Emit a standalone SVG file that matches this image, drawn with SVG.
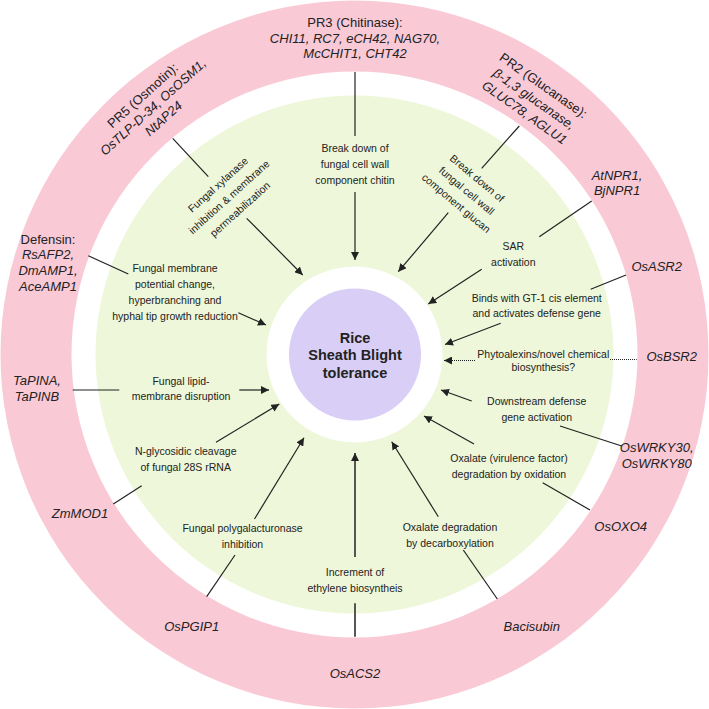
<svg xmlns="http://www.w3.org/2000/svg" width="709" height="709" viewBox="0 0 709 709">
<style>
.o{font-family:"Liberation Sans",Arial,sans-serif;font-size:13px;fill:#222;text-anchor:middle}
.i{font-style:italic}
.t{font-family:"Liberation Sans",Arial,sans-serif;font-size:10.5px;fill:#222;text-anchor:middle}
.c{font-family:"Liberation Sans",Arial,sans-serif;font-size:14.5px;font-weight:bold;fill:#222;text-anchor:middle}
.ln{stroke:#222;stroke-width:1.2;fill:none}
.ar{stroke:#222;stroke-width:1.2;fill:none;marker-end:url(#ah)}
.dt{stroke:#222;stroke-width:1.2;fill:none;stroke-dasharray:1,1}
</style>
<defs>
<marker id="ah" markerUnits="userSpaceOnUse" markerWidth="9" markerHeight="8" refX="8" refY="4" orient="auto">
<path d="M0,0 L8,4 L0,8 Z" fill="#222"/>
</marker>
</defs>
<rect width="709" height="709" fill="#fff"/>
<g id="rings">
<circle cx="354.5" cy="354.5" r="354" fill="#F9C9D6"/>
<circle cx="354.5" cy="354.5" r="283" fill="#fff"/>
<circle cx="354.5" cy="354.5" r="259" fill="#EEF7D9"/>
<circle cx="354.5" cy="354.5" r="88" fill="#fff"/>
</g>
<g id="center">
<circle cx="355" cy="354.5" r="66" fill="#D8CEF6"/>
<text class="c" x="355" y="342.5">Rice</text>
<text class="c" x="355" y="360">Sheath Blight</text>
<text class="c" x="355" y="378">tolerance</text>
</g>
<g id="connectors">
<line class="ln" x1="355" y1="72" x2="355" y2="136"/>
<line class="ar" x1="355" y1="192" x2="355" y2="260"/>
<line class="ln" x1="172.7" y1="138.3" x2="208.3" y2="176.7"/>
<line class="ar" x1="246.7" y1="218.3" x2="302.7" y2="275"/>
<line class="ln" x1="519.3" y1="126" x2="481.7" y2="168.3"/>
<line class="ar" x1="448.3" y1="212.7" x2="398.3" y2="271.7"/>
<line class="ln" x1="88.3" y1="255.7" x2="128.3" y2="274"/>
<line class="ar" x1="238.3" y1="312.7" x2="266" y2="325"/>
<line class="ln" x1="591.7" y1="201" x2="539.3" y2="236.7"/>
<line class="ar" x1="481.7" y1="269.3" x2="428.3" y2="304"/>
<line class="ln" x1="626" y1="275" x2="590.7" y2="289.3"/>
<line class="ar" x1="500.7" y1="323.3" x2="445" y2="344.5"/>
<line class="dt" x1="610" y1="359.5" x2="636.7" y2="359.5"/>
<line class="dt" x1="475" y1="360.5" x2="444" y2="360.5" style="marker-end:url(#ah)"/>
<line class="ar" x1="471.7" y1="401" x2="441" y2="390"/>
<line class="ln" x1="560" y1="426" x2="621.7" y2="446"/>
<line class="ar" x1="474" y1="444" x2="424" y2="416"/>
<line class="ln" x1="542.7" y1="482.7" x2="590" y2="510"/>
<line class="ar" x1="438.3" y1="516.7" x2="391.7" y2="441.7"/>
<line class="ln" x1="463.3" y1="550" x2="497.3" y2="599"/>
<line class="ar" x1="355" y1="557" x2="355" y2="453" style="stroke:#444;stroke-width:1.8"/>
<line class="ln" x1="355" y1="603.3" x2="355" y2="636.7" style="stroke:#444;stroke-width:1.8"/>
<line class="ar" x1="254.5" y1="519" x2="304" y2="437.7"/>
<line class="ln" x1="235" y1="555" x2="206.7" y2="596.7"/>
<line class="ar" x1="216" y1="442.3" x2="279.3" y2="404"/>
<line class="ln" x1="141.7" y1="485.7" x2="113.3" y2="504"/>
<line class="ln" x1="72.7" y1="390" x2="119.3" y2="390"/>
<line class="ar" x1="239.3" y1="390" x2="269" y2="390"/>
</g>
<g id="pr3">
<text class="o" x="355" y="27">PR3 (Chitinase):</text>
<text class="o i" x="355" y="42.5">CHI11, RC7, eCH42, NAG70,</text>
<text class="o i" x="355" y="58">McCHIT1, CHT42</text>
<text class="t" x="355" y="152">Break down of</text>
<text class="t" x="355" y="168">fungal cell wall</text>
<text class="t" x="355" y="184">component chitin</text>
</g>
<g id="pr5">
<g transform="translate(153,107) rotate(-42)">
<text class="o" x="0" y="-11">PR5 (Osmotin):</text>
<text class="o i" x="0" y="4.5">OsTLP-D-34, OsOSM1,</text>
<text class="o i" x="0" y="20">NtAP24</text>
</g>
<g transform="translate(229,197) rotate(-42)">
<text class="t" x="0" y="-12.8">Fungal xylanase</text>
<text class="t" x="0" y="3.7">inhibition &amp; membrane</text>
<text class="t" x="0" y="20.2">permeabilization</text>
</g>
</g>
<g id="pr2">
<g transform="translate(534,99) rotate(35)">
<text class="o" x="0" y="-12">PR2 (Glucanase):</text>
<text class="o i" x="0" y="4.5">β-1,3 glucanase,</text>
<text class="o i" x="0" y="21">GLUC78, AGLU1</text>
</g>
<g transform="translate(466.7,190.7) rotate(40)">
<text class="t" x="0" y="-12.6">Break down of</text>
<text class="t" x="0" y="3.7">fungal cell wall</text>
<text class="t" x="0" y="20">component glucan</text>
</g>
</g>
<g id="defensin">
<text class="o" x="48" y="243.5">Defensin:</text>
<text class="o i" x="48" y="259">RsAFP2,</text>
<text class="o i" x="48" y="275">DmAMP1,</text>
<text class="o i" x="48" y="291">AceAMP1</text>
<text class="t" x="175" y="271.5">Fungal membrane</text>
<text class="t" x="175" y="287.5">potential change,</text>
<text class="t" x="175" y="303.5">hyperbranching and</text>
<text class="t" x="175" y="319.5">hyphal tip growth reduction</text>
</g>
<g id="npr1">
<text class="o i" x="617" y="179.5">AtNPR1,</text>
<text class="o i" x="617" y="195">BjNPR1</text>
<text class="t" x="513.3" y="250">SAR</text>
<text class="t" x="513.3" y="266">activation</text>
</g>
<g id="asr2">
<text class="o i" x="656.7" y="270.5">OsASR2</text>
<text class="t" x="536.7" y="301.5">Binds with GT-1 cis element</text>
<text class="t" x="536.7" y="316.5">and activates defense gene</text>
</g>
<g id="bsr2">
<text class="o i" x="671.7" y="361">OsBSR2</text>
<text class="t" x="543.3" y="357.5">Phytoalexins/novel chemical</text>
<text class="t" x="543.3" y="371">biosynthesis?</text>
</g>
<g id="wrky">
<text class="o i" x="656.7" y="452">OsWRKY30,</text>
<text class="o i" x="656.7" y="468">OsWRKY80</text>
<text class="t" x="536.7" y="405">Downstream defense</text>
<text class="t" x="536.7" y="420.5">gene activation</text>
</g>
<g id="oxo4">
<text class="o i" x="620.7" y="531">OsOXO4</text>
<text class="t" x="509" y="462">Oxalate (virulence factor)</text>
<text class="t" x="509" y="478">degradation by oxidation</text>
</g>
<g id="bacisubin">
<text class="o i" x="531.7" y="631">Bacisubin</text>
<text class="t" x="450" y="530.5">Oxalate degradation</text>
<text class="t" x="450" y="546.5">by decarboxylation</text>
</g>
<g id="acs2">
<text class="o i" x="355" y="678">OsACS2</text>
<text class="t" x="355" y="576">Increment of</text>
<text class="t" x="355" y="592">ethylene biosyntheis</text>
</g>
<g id="pgip1">
<text class="o i" x="191.7" y="631">OsPGIP1</text>
<text class="t" x="242.5" y="532">Fungal polygalacturonase</text>
<text class="t" x="242.5" y="548">inhibition</text>
</g>
<g id="mod1">
<text class="o i" x="80" y="518">ZmMOD1</text>
<text class="t" x="185.7" y="454.5">N-glycosidic cleavage</text>
<text class="t" x="185.7" y="471">of fungal 28S rRNA</text>
</g>
<g id="pin">
<text class="o i" x="37" y="384.5">TaPINA,</text>
<text class="o i" x="37" y="401">TaPINB</text>
<text class="t" x="181" y="384.5">Fungal lipid-</text>
<text class="t" x="181" y="400">membrane disruption</text>
</g>
</svg>
